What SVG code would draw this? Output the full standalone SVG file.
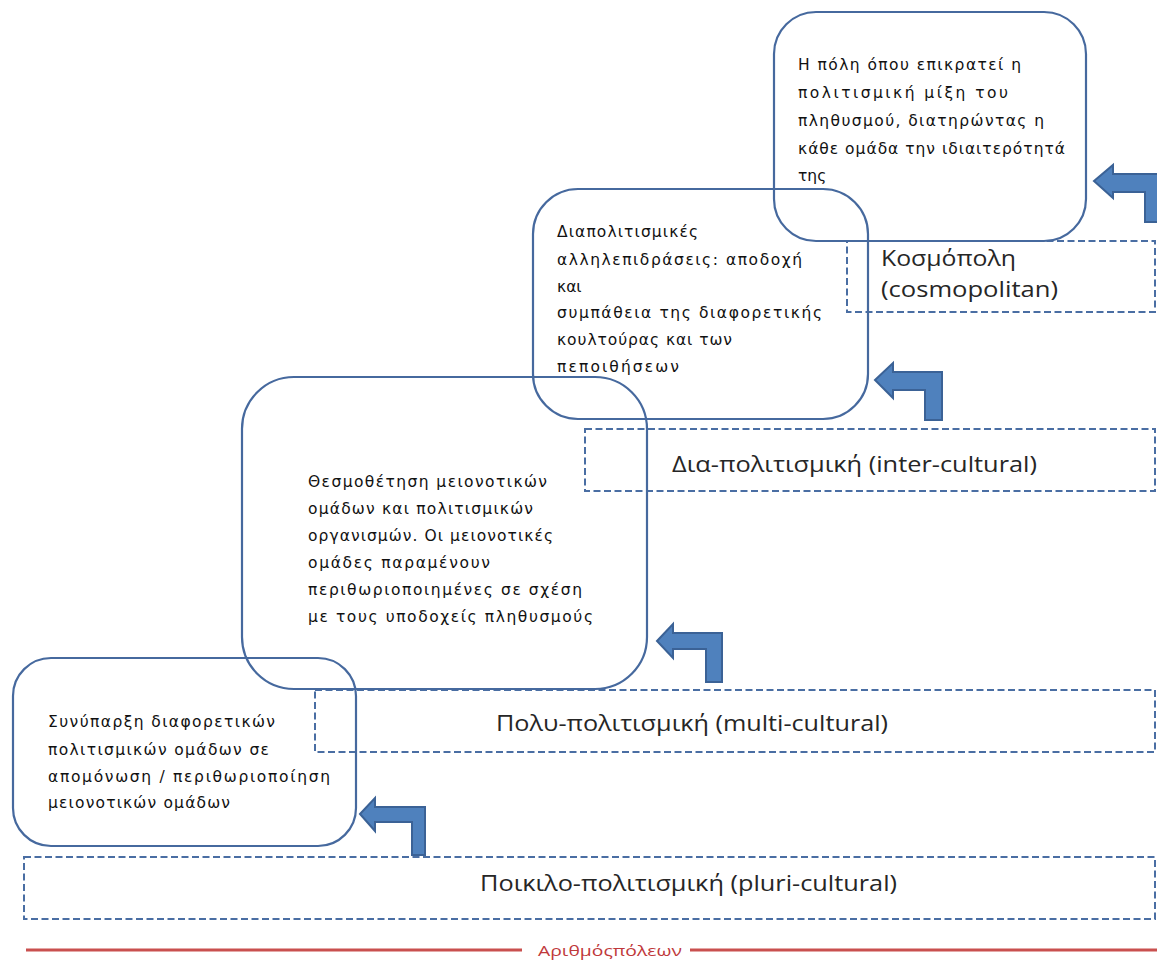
<svg xmlns="http://www.w3.org/2000/svg" width="1157" height="960" viewBox="0 0 1157 960">
<style>
.band{fill:none;stroke:#4a6ea3;stroke-width:2;stroke-dasharray:7 3.5}
.box{fill:none;stroke:#46699e;stroke-width:2.2}
.arr{fill:#4f81bd;stroke:#3b6296;stroke-width:2;stroke-linejoin:miter}
.bt{font-family:"DejaVu Sans",Verdana,sans-serif;font-size:15.5px;fill:#111111}
.lb{font-family:"Open Sans","Liberation Sans",sans-serif;font-size:21px;fill:#262626}
.ax{font-family:"Open Sans","Liberation Sans",sans-serif;font-size:15px;fill:#c0393b}
</style>
<rect width="1157" height="960" fill="#ffffff"/>
<g id="bands">
<g id="band-pluri"><rect class="band" x="24" y="857" width="1131" height="62"/>
<text class="lb" x="480" y="891" textLength="417" lengthAdjust="spacingAndGlyphs">Ποικιλο-πολιτισμική (pluri-cultural)</text></g>
<g id="band-multi"><rect class="band" x="315" y="690" width="840" height="62"/>
<text class="lb" x="496" y="731" textLength="392" lengthAdjust="spacingAndGlyphs">Πολυ-πολιτισμική (multi-cultural)</text></g>
<g id="band-inter"><rect class="band" x="585" y="429" width="570" height="62"/>
<text class="lb" x="672" y="472" textLength="365" lengthAdjust="spacingAndGlyphs">Δια-πολιτισμική (inter-cultural)</text></g>
<g id="band-cosmo"><rect class="band" x="847" y="241" width="308" height="71"/>
<text class="lb" x="881" y="266" textLength="135" lengthAdjust="spacingAndGlyphs">Κοσμόπολη</text>
<text class="lb" x="881" y="297" textLength="177" lengthAdjust="spacingAndGlyphs">(cosmopolitan)</text></g>
</g>
<g id="node-pluri">
<rect class="box" x="13" y="658" width="343" height="188" rx="38" ry="38"/>
<text class="bt" x="48" y="727" textLength="227">Συνύπαρξη διαφορετικών</text>
<text class="bt" x="48" y="755" textLength="221">πολιτισμικών ομάδων σε</text>
<text class="bt" x="48" y="782" textLength="282">απομόνωση / περιθωριοποίηση</text>
<text class="bt" x="48" y="808" textLength="182">μειονοτικών ομάδων</text>
</g>
<g id="node-multi">
<rect class="box" x="242" y="377" width="405" height="312" rx="52" ry="52"/>
<text class="bt" x="308" y="487" textLength="239">Θεσμοθέτηση μειονοτικών</text>
<text class="bt" x="308" y="514" textLength="225">ομάδων και πολιτισμικών</text>
<text class="bt" x="308" y="541" textLength="245">οργανισμών. Οι μειονοτικές</text>
<text class="bt" x="308" y="568" textLength="182">ομάδες παραμένουν</text>
<text class="bt" x="308" y="595" textLength="274">περιθωριοποιημένες σε σχέση</text>
<text class="bt" x="308" y="622" textLength="285">με τους υποδοχείς πληθυσμούς</text>
</g>
<g id="node-inter">
<rect class="box" x="533" y="189" width="335" height="230" rx="45" ry="45"/>
<text class="bt" x="557" y="237" textLength="141">Διαπολιτισμικές</text>
<text class="bt" x="557" y="265" textLength="245">αλληλεπιδράσεις: αποδοχή</text>
<text class="bt" x="557" y="292">και</text>
<text class="bt" x="557" y="318" textLength="265">συμπάθεια της  διαφορετικής</text>
<text class="bt" x="557" y="345" textLength="175">κουλτούρας και των</text>
<text class="bt" x="557" y="372" textLength="122">πεποιθήσεων</text>
</g>
<g id="node-cosmo">
<rect class="box" x="774" y="12" width="312" height="229" rx="42" ry="42"/>
<text class="bt" x="798" y="70" textLength="223">Η πόλη όπου επικρατεί η</text>
<text class="bt" x="798" y="98" textLength="210">πολιτισμική μίξη του</text>
<text class="bt" x="798" y="126" textLength="246">πληθυσμού, διατηρώντας η</text>
<text class="bt" x="798" y="154" textLength="267">κάθε ομάδα την ιδιαιτερότητά</text>
<text class="bt" x="798" y="181">της</text>
</g>
<g id="connectors">
<path class="arr" d="M360,814 L375,798 L375,807 L425,807 L425,855 L412,855 L412,822 L375,822 L375,831 Z"/>
<path class="arr" d="M657,641 L673,624 L673,633 L722,633 L722,682 L706,682 L706,649 L673,649 L673,658 Z"/>
<path class="arr" d="M875,380 L893,363 L893,372 L942,372 L942,420 L925,420 L925,390 L893,390 L893,398 Z"/>
<path class="arr" d="M1094,181 L1113,165 L1113,174 L1163,174 L1163,222 L1145,222 L1145,192 L1113,192 L1113,198 Z"/>
</g>
<g id="axis">
<line x1="26" y1="950" x2="522" y2="950" stroke="#c9504f" stroke-width="3"/>
<line x1="690" y1="950" x2="1157" y2="950" stroke="#c9504f" stroke-width="3"/>
<text class="ax" x="538" y="956" textLength="144" lengthAdjust="spacingAndGlyphs">Αριθμόςπόλεων</text>
</g>
</svg>
